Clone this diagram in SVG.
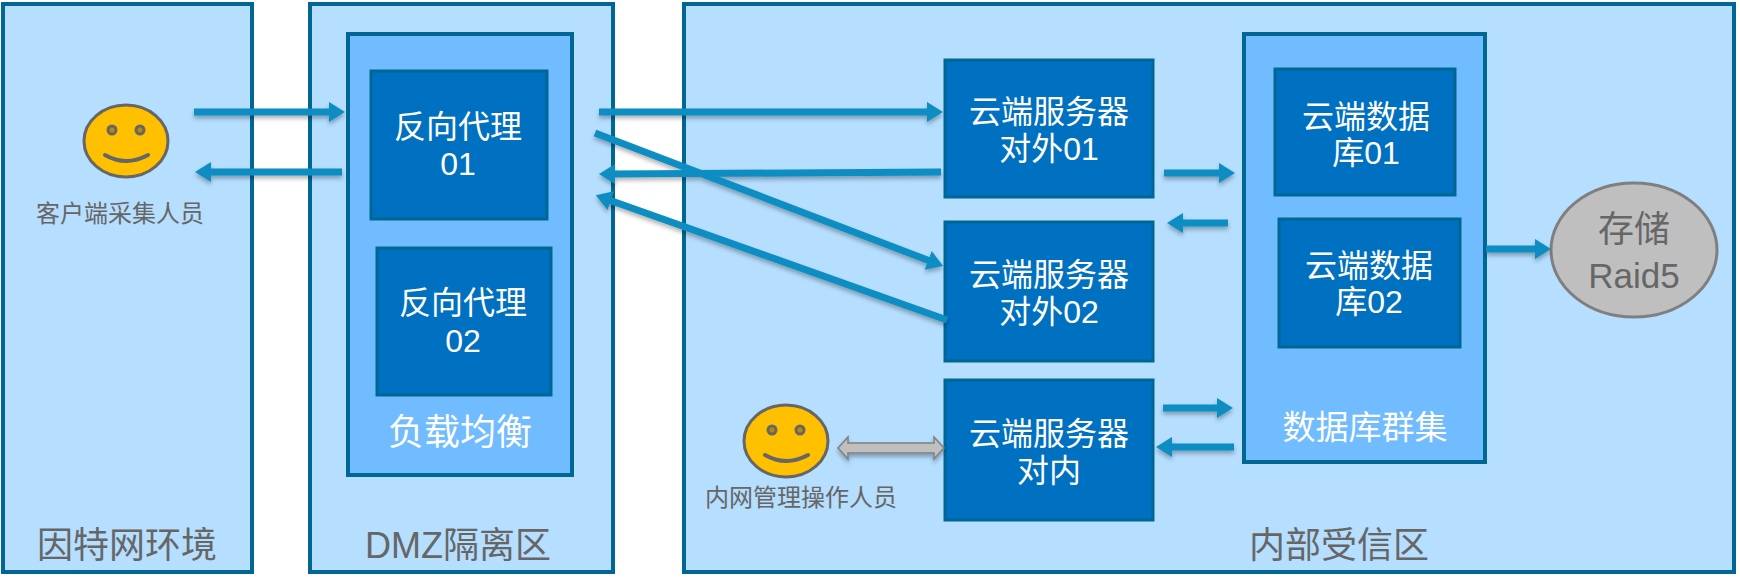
<svg xmlns="http://www.w3.org/2000/svg" width="1740" height="580" viewBox="0 0 1740 580">
<style>
text{font-family:"Liberation Sans","Noto Sans CJK SC",sans-serif;text-anchor:middle;dominant-baseline:central}
.zone{fill:#B5DEFF;stroke:#006795;stroke-width:4}
.inner{fill:#71BCFF;stroke:#006795;stroke-width:4}
.box{fill:#0070C0;stroke:#006795;stroke-width:3}
.w{fill:#fff;font-size:32px}
.zl{fill:#666;font-size:36px}
.sm{fill:#666;font-size:24px}
.face{fill:#FFC000;stroke:#666;stroke-width:3}
.eye{fill:#B8890A;stroke:#666;stroke-width:3}
.mouth{fill:none;stroke:#666;stroke-width:4;stroke-linecap:round}
.a{stroke:#0A8DC1;stroke-width:7;fill:none;marker-end:url(#h)}
</style>
<defs>
<marker id="h" markerUnits="userSpaceOnUse" markerWidth="18" markerHeight="22" refX="2" refY="11" orient="auto"><path d="M0 1L16 11L0 21Z" fill="#0A8DC1"/></marker>
<filter id="s" filterUnits="userSpaceOnUse" x="0" y="0" width="1740" height="580"><feDropShadow dx="0" dy="3" stdDeviation="2" flood-color="#000" flood-opacity=".3"/></filter>
</defs>
<g id="zone-internet"><rect class="zone" x="3" y="4" width="249" height="568"/><text class="zl" x="127" y="545">因特网环境</text></g>
<g id="zone-dmz"><rect class="zone" x="310" y="4" width="303" height="568"/><text class="zl" x="458" y="545">DMZ隔离区</text></g>
<g id="zone-trusted"><rect class="zone" x="684" y="4" width="1050" height="568"/><text class="zl" x="1339" y="545">内部受信区</text></g>
<g id="lb"><rect class="inner" x="348" y="34" width="224" height="441"/><text class="w" style="font-size:36px" x="460" y="432">负载均衡</text></g>
<g id="proxy01"><rect class="box" x="371" y="71" width="176" height="148"/><text class="w" x="458" y="127">反向代理</text><text class="w" x="458" y="164">01</text></g>
<g id="proxy02"><rect class="box" x="377" y="248" width="174" height="147"/><text class="w" x="463" y="303">反向代理</text><text class="w" x="463" y="341">02</text></g>
<g id="client"><ellipse class="face" cx="126" cy="141" rx="42" ry="36"/><circle class="eye" cx="112" cy="130" r="4"/><circle class="eye" cx="140" cy="130" r="4"/><path class="mouth" d="M105 155Q126 167 148 155"/><text class="sm" x="120" y="213">客户端采集人员</text></g>
<g id="admin"><ellipse class="face" cx="786" cy="441" rx="42" ry="36"/><circle class="eye" cx="772" cy="430" r="4"/><circle class="eye" cx="800" cy="430" r="4"/><path class="mouth" d="M765 455Q786 467 808 455"/><text class="sm" x="801" y="497">内网管理操作人员</text></g>
<g id="server01"><rect class="box" x="945" y="60" width="208" height="137"/><text class="w" x="1049" y="112">云端服务器</text><text class="w" x="1049" y="149">对外01</text></g>
<g id="server02"><rect class="box" x="945" y="222" width="208" height="139"/><text class="w" x="1049" y="275">云端服务器</text><text class="w" x="1049" y="312">对外02</text></g>
<g id="server03"><rect class="box" x="945" y="380" width="208" height="140"/><text class="w" x="1049" y="434">云端服务器</text><text class="w" x="1049" y="471">对内</text></g>
<g id="dbcluster"><rect class="inner" x="1244" y="34" width="241" height="428"/><text class="w" style="font-size:33px" x="1365" y="427">数据库群集</text></g>
<g id="db01"><rect class="box" x="1275" y="69" width="180" height="126"/><text class="w" x="1366" y="117">云端数据</text><text class="w" x="1366" y="153">库01</text></g>
<g id="db02"><rect class="box" x="1279" y="219" width="181" height="128"/><text class="w" x="1369" y="266">云端数据</text><text class="w" x="1369" y="302">库02</text></g>
<g id="storage"><ellipse cx="1634" cy="250" rx="83" ry="67" fill="#BFBFBF" stroke="#7F7F7F" stroke-width="3"/><text x="1634" y="229" fill="#666" font-size="36">存储</text><text x="1634" y="275" fill="#666" font-size="35">Raid5</text></g>
<g id="connectors" filter="url(#s)">
<path class="a" d="M194 112H331"/>
<path class="a" d="M342 172H209"/>
<path class="a" d="M599 112H929"/>
<path class="a" d="M941 172L613 174"/>
<path class="a" d="M595 133L930 261"/>
<path class="a" d="M947 320L609 200"/>
<path class="a" d="M1164 173H1221"/>
<path class="a" d="M1228 223H1181"/>
<path class="a" d="M1486 249H1537"/>
<path class="a" d="M1163 408H1219"/>
<path class="a" d="M1234 447H1170"/>
<path d="M838 448L848 437V443H934V437L944 448L934 459V453H848V459Z" fill="#BFBFBF" stroke="#808080" stroke-width="1.5"/>
</g>
</svg>
